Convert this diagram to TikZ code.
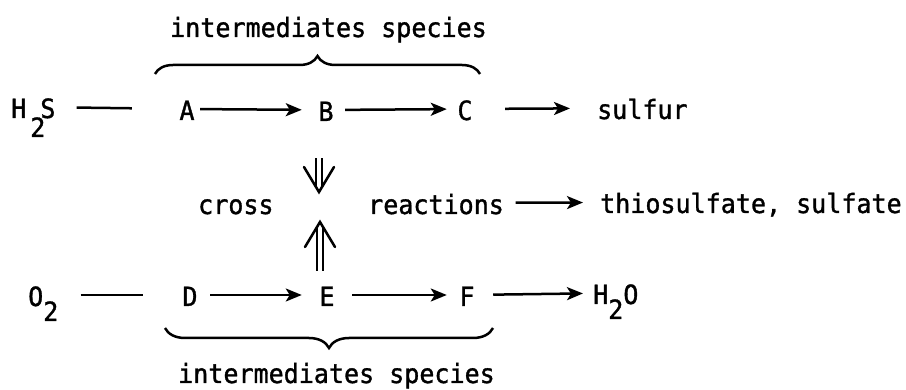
\documentclass[tikz,border=0pt]{standalone}
\usepackage{fontspec}
\setmainfont{DejaVu Sans Mono}[FakeStretch=0.945, FakeBold=1.2]
\usetikzlibrary{arrows.meta,decorations.pathreplacing,calc}
\begin{document}
\begin{tikzpicture}[x=1pt,y=-1pt,
  lbl/.style={inner sep=0pt, anchor=base, text height=22pt, text depth=0pt,
              font=\fontsize{26.5}{30}\selectfont},
  plain/.style={line width=2.5pt},
  arr/.style={line width=2.5pt, -{Stealth[length=16pt,width=13pt,inset=4pt]}},
  dbl/.style={double, double distance=4pt, line width=2.2pt},
  vhead/.style={line width=2.5pt, line join=miter, line cap=round},
  bracetop/.style={line width=2.5pt, decorate, decoration={brace, amplitude=18pt}},
  bracebot/.style={line width=2.5pt, decorate, decoration={brace, mirror, amplitude=20pt}}]
\useasboundingbox (0,0) rectangle (906,390);

% top row
\node[lbl, anchor=base west] (h2s) at (11,118) {H\kern4pt\raisebox{-19pt}{2}\kern-5pt S};
\node[lbl] (A) at (187,120) {A};
\node[lbl] (B) at (326,121) {B};
\node[lbl] (C) at (465,120) {C};
\node[lbl, anchor=base west] (sulfur) at (597,119) {sulfur};

% middle row
\node[lbl, anchor=base west] (cross) at (198,214) {cross};
\node[lbl, anchor=base west] (reactions) at (368,214) {reactions};
\node[lbl, anchor=base west] (thio) at (600,213) {thiosulfate, sulfate};
\coordinate (X) at (319,206);

% bottom row
\node[lbl, anchor=base west] (o2) at (28,306) {O\raisebox{-15pt}{2}};
\node[lbl] (D) at (190,306) {D};
\node[lbl] (E) at (327,306) {E};
\node[lbl] (F) at (467,306) {F};
\node[lbl, anchor=base west] (h2o) at (593,304) {H\raisebox{-15pt}{2}O};

% brace labels
\node[lbl, anchor=base west] (topspec) at (170,37) {intermediates species};
\node[lbl, anchor=base west] (botspec) at (178,383) {intermediates species};

% braces
\coordinate (tb1) at (155,74);
\coordinate (tb2) at (480,74);
\coordinate (bb1) at (165,328);
\coordinate (bb2) at (493,328);
\draw[bracetop] (tb1) -- (tb2);
\draw[bracebot] (bb1) -- (bb2);

% top row connectors
\draw[plain, shorten <=21pt, shorten >=47.5pt] (h2s) -- (A);
\draw[arr, shorten <=5.5pt, shorten >=16.5pt] (A) -- (B);
\draw[arr, shorten <=11.5pt, shorten >=10.5pt] (B) -- (C);
\draw[arr, shorten <=32.5pt, shorten >=27pt] (C) -- (sulfur);

% middle row connector
\draw[arr, shorten <=11.5pt, shorten >=17pt] (reactions) -- (thio);

% bottom row connectors
\draw[plain, shorten <=22pt, shorten >=39.5pt] (o2) -- (D);
\draw[arr, shorten <=12.5pt, shorten >=17.5pt] (D) -- (E);
\draw[arr, shorten <=17.5pt, shorten >=12.5pt] (E) -- (F);
\draw[arr, shorten <=18.5pt, shorten >=10pt] (F) -- (h2o);

% double arrows
\coordinate (dtip) at ($(X)+(0,-14)$);
\coordinate (utip) at ($(X)+(1,16)$);
\draw[dbl, shorten <=37pt, shorten >=18pt] (X |- B.south) -- (X);
\draw[vhead] ($(dtip)+(-15,-25)$) -- (dtip) -- ($(dtip)+(15,-25)$);
\draw[dbl, shorten <=13pt, shorten >=20pt] ($(X |- E.north)+(1,0)$) -- ($(X)+(1,0)$);
\draw[vhead] ($(utip)+(-15,25)$) -- (utip) -- ($(utip)+(15,25)$);
\end{tikzpicture}
\end{document}
